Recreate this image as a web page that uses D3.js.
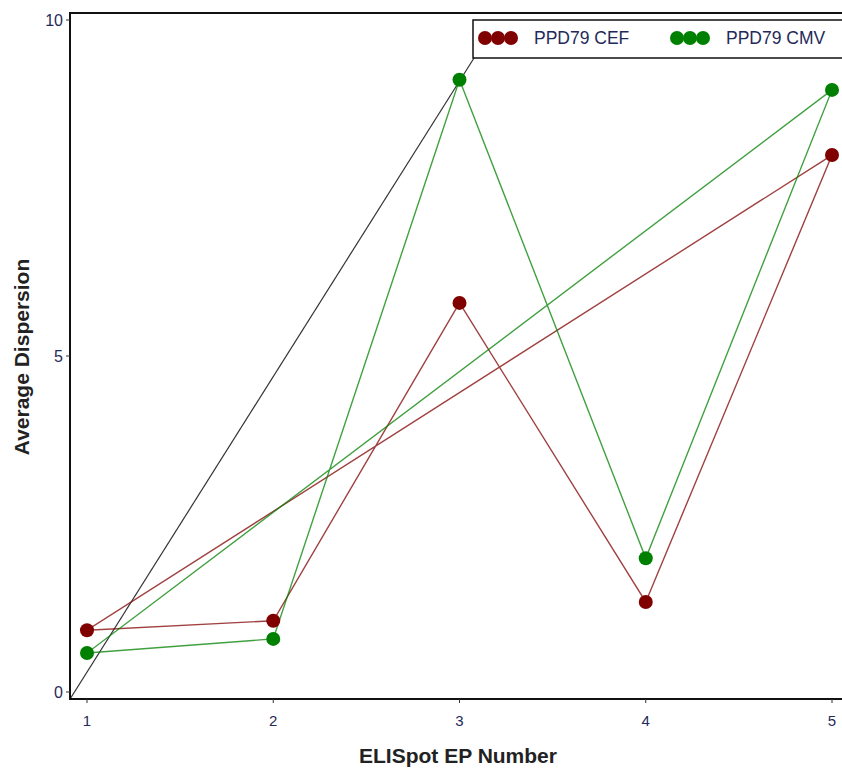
<!DOCTYPE html>
<html>
<head>
<meta charset="utf-8">
<script src="https://cdn.jsdelivr.net/npm/d3@7"></script>
<style>
  body { margin: 0; background: #fff; }
  text { font-family: "Liberation Sans", Arial, sans-serif; }
</style>
</head>
<body>
<div id="chart"></div>
<script>
// data
const epNumbers = [1, 2, 3, 4, 5];
const cefValues = [0.92, 1.06, 5.79, 1.34, 7.99];
const cmvValues = [0.58, 0.79, 9.11, 1.99, 8.96];
const seriesNames = ["PPD79 CEF", "PPD79 CMV"];
const seriesColors = ["#800000", "#008000"];
const xTicks = [1, 2, 3, 4, 5];
const yTicks = [0, 5, 10];
// diagonal reference line (data units), ends at the legend corner
const refLine = [[0.909, -0.104], [3.078, 9.435]];

const width = 842, height = 768;

const svg = d3.select("#chart")
  .append("svg")
    .attr("width", width)
    .attr("height", height);

const x = d3.scaleLinear().domain([1, 5]).range([87, 832]);
const y = d3.scaleLinear().domain([0, 10]).range([692, 20]);

const plotLeft = 70, plotTop = 13, plotBottom = 699;

// clip for plot area
svg.append("clipPath").attr("id", "clip")
  .append("rect").attr("x", plotLeft).attr("y", plotTop)
  .attr("width", width - plotLeft).attr("height", plotBottom - plotTop);

const plot = svg.append("g").attr("clip-path", "url(#clip)");

// reference line
plot.append("path")
  .datum(refLine)
  .attr("d", d3.line().x(d => x(d[0])).y(d => y(d[1])))
  .attr("fill", "none")
  .attr("stroke", "#333")
  .attr("stroke-width", 1.2);

const series = [cefValues, cmvValues];

// closed paths: 1 -> 5 and back to 1
series.forEach((vals, i) => {
  const pts = epNumbers.map((e, j) => [e, vals[j]]);
  plot.append("path")
    .datum(pts)
    .attr("d", d3.line().x(d => x(d[0])).y(d => y(d[1])).curve(d3.curveLinearClosed))
    .attr("fill", "none")
    .attr("stroke", seriesColors[i])
    .attr("stroke-opacity", 0.75)
    .attr("stroke-width", 1.4);
});

series.forEach((vals, i) => {
  plot.selectAll(".pt" + i)
    .data(epNumbers.map((e, j) => [e, vals[j]]))
    .enter().append("circle")
      .attr("cx", d => x(d[0]))
      .attr("cy", d => y(d[1]))
      .attr("r", 7)
      .attr("fill", seriesColors[i]);
});

// frame
svg.append("path")
  .attr("d", `M${width + 5},${plotTop}H${plotLeft}V${plotBottom}H${width + 5}`)
  .attr("fill", "none")
  .attr("stroke", "#111")
  .attr("stroke-width", 2);

// y ticks
const yAxis = svg.append("g");
yTicks.forEach(t => {
  yAxis.append("line")
    .attr("x1", plotLeft - 4).attr("x2", plotLeft)
    .attr("y1", y(t)).attr("y2", y(t))
    .attr("stroke", "#333");
  yAxis.append("text")
    .attr("x", plotLeft - 7).attr("y", y(t))
    .attr("dy", "0.35em")
    .attr("text-anchor", "end")
    .attr("font-size", 16)
    .attr("fill", "#1f2a5a")
    .text(t);
});

// x ticks
const xAxis = svg.append("g");
xTicks.forEach(t => {
  xAxis.append("line")
    .attr("x1", x(t)).attr("x2", x(t))
    .attr("y1", plotBottom).attr("y2", plotBottom + 4)
    .attr("stroke", "#333");
  xAxis.append("text")
    .attr("x", x(t)).attr("y", plotBottom + 27)
    .attr("text-anchor", "middle")
    .attr("font-size", 15)
    .attr("fill", "#1f2a5a")
    .text(t);
});

// axis titles
svg.append("text")
  .attr("x", 458).attr("y", 763)
  .attr("text-anchor", "middle")
  .attr("font-size", 21)
  .attr("font-weight", "bold")
  .attr("fill", "#222")
  .text("ELISpot EP Number");

svg.append("text")
  .attr("transform", "translate(29,357) rotate(-90)")
  .attr("text-anchor", "middle")
  .attr("font-size", 21)
  .attr("font-weight", "bold")
  .attr("fill", "#222")
  .text("Average Dispersion");

// legend
const legend = svg.append("g");
legend.append("rect")
  .attr("x", 473).attr("y", 20)
  .attr("width", 400).attr("height", 38)
  .attr("fill", "#fff")
  .attr("stroke", "#111")
  .attr("stroke-width", 1.5);

const legendX = [485, 677];
seriesNames.forEach((name, i) => {
  [0, 1, 2].forEach(k => {
    legend.append("circle")
      .attr("cx", legendX[i] + k * 13)
      .attr("cy", 38)
      .attr("r", 7)
      .attr("fill", seriesColors[i]);
  });
  legend.append("text")
    .attr("x", legendX[i] + 49)
    .attr("y", 38)
    .attr("dy", "0.35em")
    .attr("font-size", 17.5)
    .attr("fill", "#1f2a5a")
    .text(name);
});
</script>
</body>
</html>
